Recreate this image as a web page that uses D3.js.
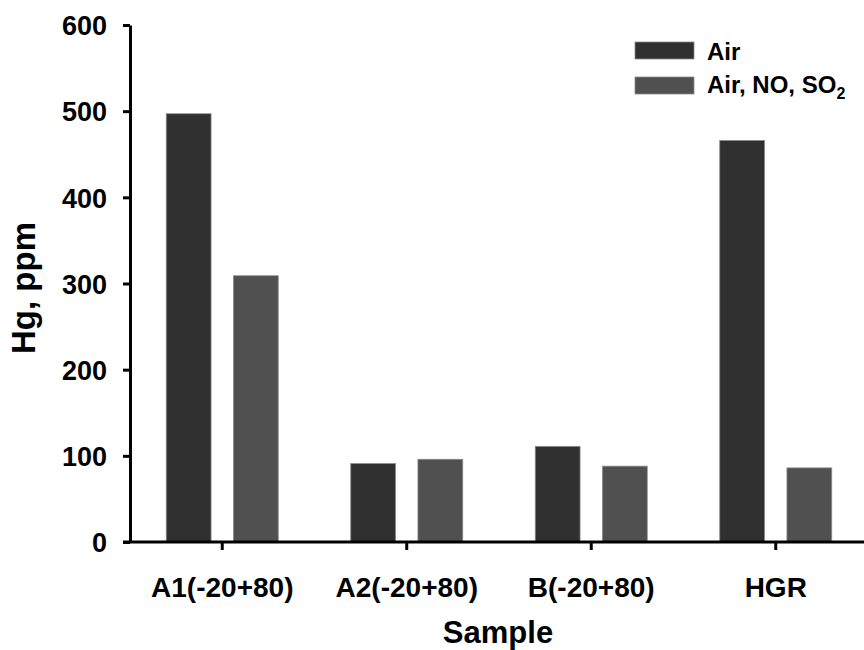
<!DOCTYPE html>
<html><head><meta charset="utf-8">
<script src="https://cdn.jsdelivr.net/npm/d3@7"></script>
<style>body{margin:0;background:#fff}svg{display:block}text{font-family:"Liberation Sans",Arial,sans-serif;font-weight:bold;fill:#000}</style>
</head><body>
<svg id="c" width="864" height="650"></svg>
<script>
const categories = ["A1(-20+80)", "A2(-20+80)", "B(-20+80)", "HGR"];
const seriesNames = ["Air", "Air, NO, SO2"];
const airValues = [497, 91, 111, 466];
const airNoSo2Values = [309, 96, 88, 86];
const yTicks = [0, 100, 200, 300, 400, 500, 600];
const colors = ["#303030", "#505050"];

const svg = d3.select("#c");
const mLeft = 130, mRight = 868, mTop = 25, mBottom = 542;
const x = d3.scaleBand().domain(categories).range([mLeft, mRight]);
const y = d3.scaleLinear().domain([0, 600]).range([mBottom, mTop]);
const xs = d3.scaleBand().domain([0, 1]).range([-56, 56]).paddingInner(0.333);

const series = [airValues, airNoSo2Values];
series.forEach((vals, si) => {
  svg.append("g").selectAll("rect").data(vals).join("rect")
    .attr("x", (d, i) => x(categories[i]) + x.bandwidth() / 2 + xs(si))
    .attr("width", xs.bandwidth())
    .attr("y", d => y(d))
    .attr("height", d => mBottom - y(d))
    .attr("fill", colors[si])
    .attr("stroke", "#8a8a8a").attr("stroke-width", 0.8);
});

// Y axis
const ya = svg.append("g").attr("transform", `translate(${mLeft},0)`)
  .call(d3.axisLeft(y).tickValues(yTicks).tickSize(7).tickPadding(16).tickSizeOuter(0));
ya.select(".domain").attr("stroke", "#000").attr("stroke-width", 3);
ya.selectAll(".tick line").attr("stroke", "#000").attr("stroke-width", 3);
ya.selectAll(".tick text").style("font-size", "27px").attr("dy", "0.36em");

// X axis
const xa = svg.append("g").attr("transform", `translate(0,${mBottom})`)
  .call(d3.axisBottom(x).tickSize(8).tickPadding(27).tickSizeOuter(0));
xa.select(".domain").attr("stroke", "#000").attr("stroke-width", 3).attr("d", `M${mLeft - 7},0H864`);
xa.selectAll(".tick line").attr("stroke", "#000").attr("stroke-width", 3);
xa.selectAll(".tick text").style("font-size", "28px");

// Axis titles
svg.append("text").attr("x", 498).attr("y", 643).attr("text-anchor", "middle")
  .style("font-size", "31px").text("Sample");
svg.append("text").attr("transform", "translate(35,288) rotate(-90)").attr("text-anchor", "middle")
  .style("font-size", "33px").text("Hg, ppm");

// Legend
const lg = svg.append("g");
[0, 1].forEach(i => {
  const yy = 42 + i * 35;
  lg.append("rect").attr("x", 635).attr("y", yy).attr("width", 59).attr("height", 17)
    .attr("fill", colors[i]).attr("stroke", "#8a8a8a").attr("stroke-width", 0.8);
});
lg.append("text").attr("x", 707).attr("y", 60).style("font-size", "24px").text(seriesNames[0]);
const t2 = lg.append("text").attr("x", 707).attr("y", 93).style("font-size", "24px");
t2.append("tspan").text("Air, NO, SO");
t2.append("tspan").attr("dy", 6).style("font-size", "16px").text("2");
</script>
</body></html>
